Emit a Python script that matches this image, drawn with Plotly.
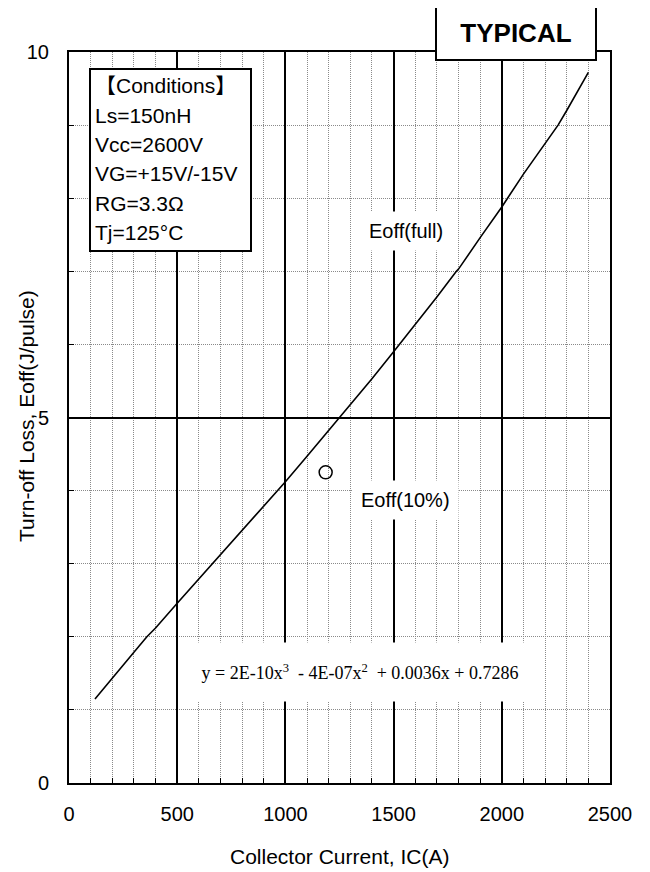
import plotly.graph_objects as go

# Eoff(full) curve
ic_full = [120, 200, 300, 360, 400, 500, 600, 665, 700, 800, 900, 1000, 1100, 1200,
           1248, 1300, 1400, 1500, 1600, 1700, 1790, 1800, 1900, 2000, 2100, 2200,
           2260, 2300, 2400]
eoff_full = [1.15, 1.44, 1.79, 2.00, 2.12, 2.46, 2.79, 3.00, 3.12, 3.45, 3.79, 4.12, 4.47, 4.82,
             5.00, 5.17, 5.53, 5.90, 6.27, 6.65, 7.00, 7.03, 7.46, 7.88, 8.33, 8.75,
             9.00, 9.20, 9.72]

# Eoff(10%) point
ic_10 = [1186]
eoff_10 = [4.25]

x_ticks = [0, 500, 1000, 1500, 2000, 2500]
y_ticks = [0, 5, 10]

conditions = ["【Conditions】", "Ls=150nH", "Vcc=2600V", "VG=+15V/-15V", "RG=3.3Ω", "Tj=125°C"]

FONT = "Arial, Liberation Sans, Noto Sans CJK JP, sans-serif"

# plot area in page pixels (page body has an 8px default margin)
PL, PR, PT, PB = 69, 610, 52, 783
BODY = 8


def px(x):
    return (x - PL) / (PR - PL)


def py(y):
    return (PB - y) / (PB - PT)


fig = go.Figure()
fig.add_trace(go.Scatter(x=ic_full, y=eoff_full, mode="lines",
                         line=dict(color="black", width=1.6), showlegend=False))
fig.add_trace(go.Scatter(x=ic_10, y=eoff_10, mode="markers",
                         marker=dict(symbol="circle-open", size=13, color="black",
                                     line=dict(width=1.5)), showlegend=False))

fig.update_layout(
    width=650, height=872,
    margin=dict(l=PL - BODY, r=650 - PR + BODY, t=PT - BODY, b=872 - PB + BODY),
    paper_bgcolor="white", plot_bgcolor="white",
    font=dict(family=FONT, size=20, color="black"),
)

fig.update_xaxes(
    range=[0, 2500], tickvals=x_ticks, ticktext=[str(v) for v in x_ticks],
    showgrid=True, gridcolor="black", gridwidth=1.8,
    minor=dict(dtick=100, showgrid=True, gridcolor="#8a8a8a", griddash="1px,1px",
               gridwidth=1, ticks="inside", ticklen=5, tickcolor="black"),
    ticks="inside", ticklen=5, tickcolor="black",
    showline=True, linecolor="black", linewidth=2, mirror=True,
    zeroline=False, ticklabelstandoff=12, automargin=False,
    tickfont=dict(size=20),
)
fig.update_yaxes(
    range=[0, 10], tickvals=y_ticks, ticktext=[str(v) for v in y_ticks],
    showgrid=True, gridcolor="black", gridwidth=1.8,
    minor=dict(dtick=1, showgrid=True, gridcolor="#8a8a8a", griddash="1px,1px",
               gridwidth=1, ticks="inside", ticklen=5, tickcolor="black"),
    ticks="inside", ticklen=5, tickcolor="black",
    showline=True, linecolor="black", linewidth=2, mirror=True,
    zeroline=False, ticklabelstandoff=14, automargin=False,
    tickfont=dict(size=20),
)

# axis titles
fig.add_annotation(text="Collector Current, IC(A)", xref="paper", yref="paper",
                   x=0.5, y=py(856), xanchor="center", yanchor="middle",
                   showarrow=False, font=dict(size=21, family=FONT))
fig.add_annotation(text="Turn-off Loss, Eoff(J/pulse)", xref="paper", yref="paper",
                   x=px(26), y=py(416), xanchor="center", yanchor="middle",
                   textangle=-90, showarrow=False, font=dict(size=21, family=FONT))

# Conditions box
fig.add_shape(type="rect", xref="paper", yref="paper",
              x0=px(90), x1=px(251), y0=py(251), y1=py(69),
              line=dict(color="black", width=2), fillcolor="white", layer="above")
for i, t in enumerate(conditions):
    fig.add_annotation(text=t, xref="paper", yref="paper",
                       x=px(94), y=py(86 + 29.3 * i),
                       xanchor="left", yanchor="middle", showarrow=False,
                       borderpad=0, font=dict(size=21, family=FONT))

# TYPICAL box
fig.add_annotation(text="<b>TYPICAL</b>", xref="paper", yref="paper",
                   x=px(516), y=py(33), xanchor="center", yanchor="middle",
                   showarrow=False, font=dict(size=26, family=FONT), bgcolor="white",
                   bordercolor="black", borderwidth=2, borderpad=1, width=156, height=50)

fig.add_annotation(text="Eoff(full)", x=1556, y=7.55, showarrow=False,
                   font=dict(size=20, family=FONT), bgcolor="white",
                   borderpad=8)
fig.add_annotation(text="Eoff(10%)", x=1553, y=3.87, showarrow=False,
                   font=dict(size=20, family=FONT), bgcolor="white",
                   borderpad=8)
fig.add_annotation(text="y = 2E-10x<sup>3</sup>  - 4E-07x<sup>2</sup>  + 0.0036x + 0.7286",
                   x=1343, y=1.52, showarrow=False,
                   font=dict(size=18, family="Liberation Serif, Times New Roman, serif"),
                   bgcolor="white", borderpad=4, width=322, height=50)

fig.write_html("out.html")
